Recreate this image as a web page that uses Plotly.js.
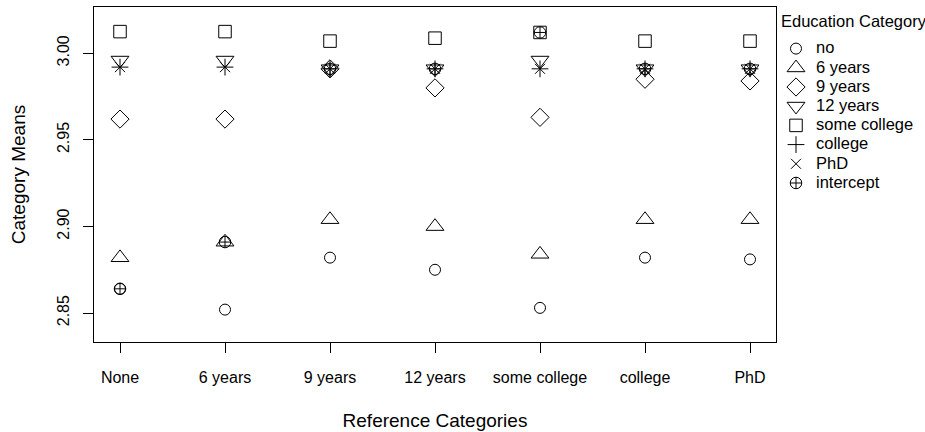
<!DOCTYPE html>
<html>
<head>
<meta charset="utf-8">
<script src="https://cdn.plot.ly/plotly-3.0.1.min.js"></script>
<style>
  html, body { margin: 0; padding: 0; background: #ffffff; }
  #chart { width: 925px; height: 432px; }
</style>
</head>
<body>
<div id="chart"></div>
<script>
// ---------- data ----------
const categories = ["None", "6 years", "9 years", "12 years", "some college", "college", "PhD"];
const seriesNames = ["no", "6 years", "9 years", "12 years", "some college", "college", "PhD", "intercept"];

const meansNo          = [2.864, 2.852, 2.882, 2.875, 2.853, 2.882, 2.881];
const means6Years      = [2.882, 2.891, 2.904, 2.900, 2.884, 2.904, 2.904];
const means9Years      = [2.962, 2.962, 2.991, 2.980, 2.963, 2.985, 2.984];
const means12Years     = [2.996, 2.996, 2.991, 2.991, 2.996, 2.991, 2.991];
const meansSomeCollege = [3.0125, 3.0125, 3.007, 3.0087, 3.012, 3.007, 3.007];
const meansCollege     = [2.992, 2.992, 2.991, 2.991, 2.991, 2.991, 2.991];
const meansPhD         = [2.992, 2.992, 2.991, 2.991, 2.991, 2.991, 2.991];
const meansIntercept   = [2.864, 2.891, 2.991, 2.991, 3.012, 2.991, 2.991];

const yTickVals = [2.85, 2.90, 2.95, 3.00];
const yTickText = ["2.85", "2.90", "2.95", "3.00"];

// ---------- styles ----------
const seriesValues = [meansNo, means6Years, means9Years, means12Years,
                      meansSomeCollege, meansCollege, meansPhD, meansIntercept];
const markerStyles = [
  { symbol: "circle-open",        size: 11 },
  { symbol: "triangle-up-open",   size: 15.5 },
  { symbol: "diamond-open",       size: 14 },
  { symbol: "triangle-down-open", size: 15.5 },
  { symbol: "square-open",        size: 12.5 },
  { symbol: "cross-thin-open",    size: 12 },
  { symbol: "x-thin-open",        size: 10 },
  { symbol: "circle-cross-open",  size: 11.5 }
];

const FONT = "Liberation Sans, Arial, Helvetica, sans-serif";

const traces = seriesNames.map((name, i) => ({
  type: "scatter",
  mode: "markers",
  name: '<span style="font-size:16.5px">' + name + '</span>',
  x: categories,
  y: seriesValues[i],
  cliponaxis: false,
  marker: {
    symbol: markerStyles[i].symbol,
    size: markerStyles[i].size,
    color: "#000000",
    line: { color: "#000000", width: 1 }
  }
}));

const W = 925, H = 432;
const L = 94, R = 776, T = 7, B = 342;

const layout = {
  width: W,
  height: H,
  margin: { l: L, r: W - R, t: T, b: H - B, pad: 0 },
  paper_bgcolor: "#ffffff",
  plot_bgcolor: "#ffffff",
  font: { family: FONT, color: "#000000", size: 16 },
  showlegend: true,
  xaxis: {
    type: "category",
    categoryorder: "array",
    categoryarray: categories,
    range: [-0.2476, 6.2476],
    autorange: false,
    showgrid: false,
    zeroline: false,
    showline: true,
    mirror: true,
    linecolor: "#000000",
    linewidth: 1,
    ticks: "outside",
    ticklen: 10,
    tickwidth: 1,
    tickcolor: "#000000",
    tickfont: { family: FONT, size: 16, color: "#000000" },
    ticklabelstandoff: 11,
    title: { text: "Reference Categories", font: { family: FONT, size: 19, color: "#000000" }, standoff: 28 }
  },
  yaxis: {
    range: [2.8333, 3.0267],
    autorange: false,
    showgrid: false,
    zeroline: false,
    showline: true,
    mirror: true,
    linecolor: "#000000",
    linewidth: 1,
    ticks: "outside",
    ticklen: 10,
    tickwidth: 1,
    tickcolor: "#000000",
    tickvals: yTickVals,
    ticktext: yTickText,
    tickangle: -90,
    tickfont: { family: FONT, size: 16, color: "#000000" },
    ticklabelstandoff: 8,
    title: { text: "Category Means", font: { family: FONT, size: 19, color: "#000000" }, standoff: 23 }
  },
  legend: {
    xref: "container",
    yref: "container",
    x: 776 / W,
    y: 1 - 34 / H,
    xanchor: "left",
    yanchor: "top",
    bgcolor: "rgba(0,0,0,0)",
    borderwidth: 0,
    font: { family: FONT, size: 12.46, color: "#000000" },
    itemsizing: "trace",
    tracegroupgap: 0
  },
  annotations: [{
    text: "Education Category",
    xref: "paper",
    yref: "paper",
    x: (779 - L) / (R - L),
    y: (B - 20.7) / (B - T),
    xanchor: "left",
    yanchor: "middle",
    showarrow: false,
    font: { family: FONT, size: 16.5, color: "#000000" }
  }]
};

Plotly.newPlot("chart", traces, layout, { displayModeBar: false, staticPlot: true });
</script>
</body>
</html>
